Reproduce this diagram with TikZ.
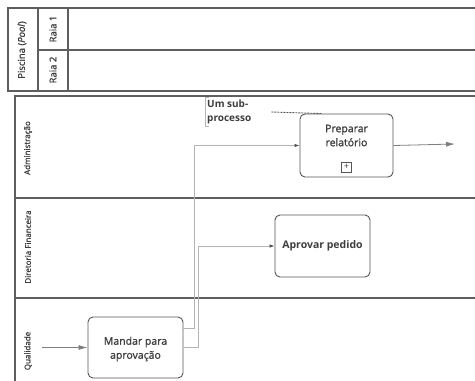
\documentclass[tikz,border=0pt]{standalone}
\usepackage{fontspec}
\setmainfont{Open Sans}
\newfontfamily\medfont[FakeBold=1.2]{Open Sans}
\usetikzlibrary{arrows.meta}
\definecolor{ln}{HTML}{5E5E5E}
\definecolor{tx}{HTML}{3E3E3E}
\definecolor{cn}{HTML}{B4B4B4}
\definecolor{bx}{HTML}{555555}
\begin{document}
\begin{tikzpicture}[x=1pt,y=-1pt,
  pool/.style={draw=ln, line width=1.1pt},
  lanelabel/.style={rotate=90, text=tx, font=\medfont\fontsize{8}{10}\selectfont, inner sep=0pt},
  poollabel/.style={rotate=90, text=tx, font=\medfont\fontsize{9.5}{12}\selectfont, inner sep=0pt},
  task/.style={draw=bx, line width=0.9pt, rounded corners=5pt, fill=white, inner sep=0pt},
  tasktext/.style={text=tx, align=center, font=\medfont\fontsize{10.5}{14}\selectfont, inner sep=0pt},
  conn/.style={draw=cn, line width=0.7pt, arrows={-{Latex[length=5pt,width=3.5pt,color=bx]}}},
  flow/.style={draw=ln!80, line width=0.8pt, -{Latex[length=9pt,width=5pt]}},
]
\useasboundingbox[fill=white] (0,0) rectangle (475,381);

% top pool
\draw[pool] (475,8) -- (8,8) -- (8,91) -- (475,91);
\draw[pool] (38,8) -- (38,91);
\draw[pool] (68,8) -- (68,91);
\draw[pool] (38,50) -- (475,50);
\node[poollabel] (piscina) at (22,50) {Piscina (\textit{Pool})};
\node[poollabel] (raia1) at (53,29) {Raia 1};
\node[poollabel] (raia2) at (53,70) {Raia 2};

% second pool
\draw[pool] (475,96) -- (15,96) -- (15,381);
\draw[pool] (15,198) -- (475,198);
\draw[pool] (15,298) -- (475,298);
\node[lanelabel] (adm) at (28,148) {Administração};
\node[lanelabel] (dir) at (28,247) {Diretoria Financeira};
\node[lanelabel] (qual) at (28,351) {Qualidade};

% tasks
\node[task, minimum width=93pt, minimum height=63pt] (preparar) at (346.5,145.5) {};
\node[tasktext] (prepText) at (346.5,135.5) {Preparar\\relatório};
\node[draw=bx, line width=0.7pt, minimum size=10pt, inner sep=0pt, text=tx,
      font=\fontsize{9}{9}\selectfont] (plus) at (346.5,167) {+};

\node[task, minimum width=95pt, minimum height=62pt] (aprovar) at (322.5,246) {};
\node[tasktext, font=\fontsize{10.5}{14}\selectfont\bfseries] (aprText) at (322.5,246) {Aprovar pedido};

\node[task, minimum width=95pt, minimum height=61pt] (mandar) at (135.5,347.5) {};
\node[tasktext] (manText) at (135.5,349) {Mandar para\\aprovação};

% annotation
\node[anchor=west, align=left, text=tx, inner sep=2pt,
      font=\fontsize{10}{14}\selectfont\bfseries] (annot) at (205,112) {Um sub-\\processo};
\draw[cn, line width=0.8pt] ([xshift=4pt]annot.north west) -- (annot.north west) -- (annot.south west) -- ([xshift=4pt]annot.south west);
\draw[bx, line width=0.9pt, dash pattern=on 2pt off 1pt] ([xshift=18pt]annot.east) -- ([xshift=22pt]preparar.north west);

% flows
\coordinate (start) at (42,347.5);
\coordinate (endp) at (455,144);
\draw[flow] (start) -- (mandar.west);
\draw[flow] (preparar.east) -- (endp);
\draw[conn] ([yshift=19.5pt]mandar.east) -- ++(11,0) |- (preparar.west);
\draw[conn] (mandar.east) -- ++(15,0) |- (aprovar.west);
\end{tikzpicture}
\end{document}
